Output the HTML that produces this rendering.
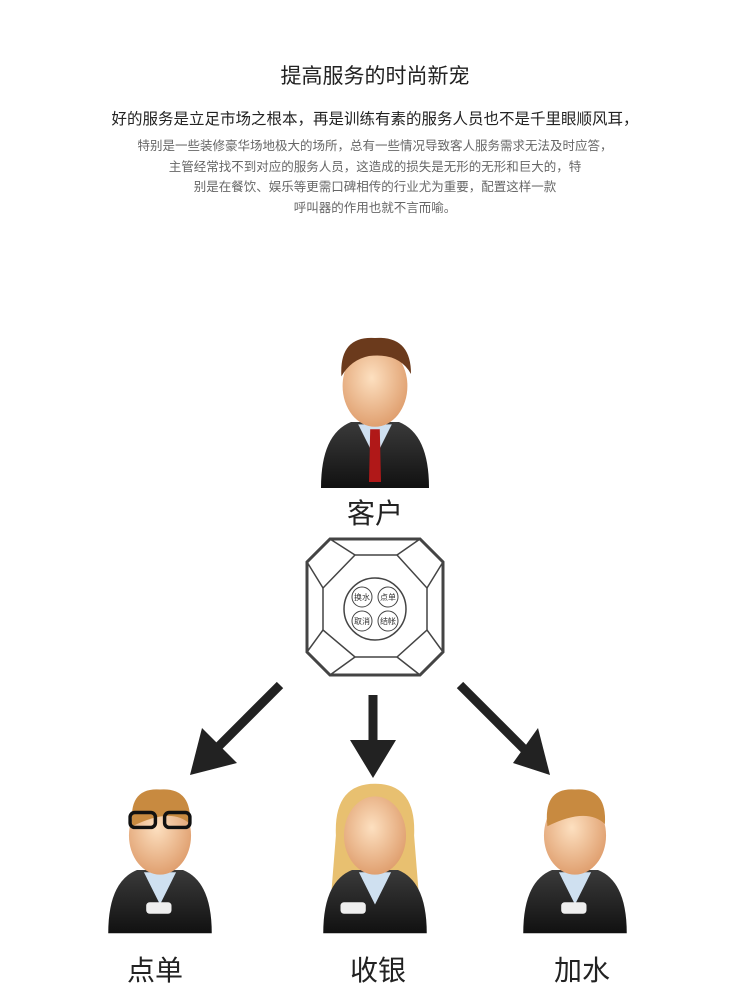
<!DOCTYPE html>
<html><head><meta charset="utf-8"><style>
body{margin:0;background:#fff;width:750px;height:1003px;overflow:hidden;font-family:"Liberation Sans","Noto Sans CJK SC",sans-serif;}
.t{position:absolute;left:0;width:750px;text-align:center;white-space:nowrap}
</style></head><body>
<div class="t" style="top:60px;font-size:21px;color:#222">提高服务的时尚新宠</div>
<div class="t" style="top:107px;font-size:15.5px;color:#222">好的服务是立足市场之根本，再是训练有素的服务人员也不是千里眼顺风耳，</div>
<div class="t" style="top:136px;font-size:12.5px;color:#666;line-height:20.5px">特别是一些装修豪华场地极大的场所，总有一些情况导致客人服务需求无法及时应答，<br>主管经常找不到对应的服务人员，这造成的损失是无形的无形和巨大的，特<br>别是在餐饮、娱乐等更需口碑相传的行业尤为重要，配置这样一款<br>呼叫器的作用也就不言而喻。</div>
<svg width="750" height="1003" style="position:absolute;left:0;top:0">
<defs>
<radialGradient id="sk" cx="0.45" cy="0.4" r="0.6"><stop offset="0" stop-color="#fde0c0"/><stop offset="1" stop-color="#e0a070"/></radialGradient>
<linearGradient id="su" x1="0" y1="0" x2="0" y2="1"><stop offset="0" stop-color="#3a3a3a"/><stop offset="1" stop-color="#111"/></linearGradient>
<g id="p">
<path d="M-45,55 Q-45,10 -20,0 L20,0 Q45,10 45,55 Z" fill="url(#su)"/>
<path d="M-14,2 L0,30 L14,2 Z" fill="#cfe0f0"/>
<ellipse cx="0" cy="-30" rx="27" ry="34" fill="url(#sk)"/>
</g>
</defs>
<g transform="translate(375,422) scale(1.2)">
<use href="#p"/>
<path d="M-4,6 L4,6 L5,50 L-5,50Z" fill="#b01818"/>
<path d="M-28,-38 Q-30,-72 0,-70 Q30,-72 30,-40 Q20,-58 -5,-55 Q-20,-52 -28,-38Z" fill="#6b3a1c"/>
</g>
<text x="375" y="523" font-size="28" text-anchor="middle" fill="#222">客户</text>
<g fill="none" stroke="#444">
<polygon points="330,539 420,539 443,562 443,652 420,675 330,675 307,652 307,562" stroke-width="3"/>
<polygon points="355,555 397,555 427,588 427,630 397,657 355,657 323,630 323,588" stroke-width="1.5"/>
<path d="M330,539L355,555M420,539L397,555M443,562L427,588M443,652L427,630M420,675L397,657M330,675L355,657M307,652L323,630M307,562L323,588" stroke-width="1.5"/>
<circle cx="375" cy="609" r="31" stroke-width="1.5"/>
<circle cx="362" cy="597" r="10"/><circle cx="388" cy="597" r="10"/><circle cx="362" cy="621" r="10"/><circle cx="388" cy="621" r="10"/>
</g>
<g font-size="8" text-anchor="middle" fill="#333">
<text x="362" y="600">换水</text><text x="388" y="600">点单</text><text x="362" y="624">取消</text><text x="388" y="624">结帐</text>
</g>
<g stroke="#222" stroke-width="9"><line x1="280" y1="685" x2="210" y2="755"/><line x1="373" y1="695" x2="373" y2="745"/><line x1="460" y1="685" x2="530" y2="755"/></g>
<g fill="#222">
<polygon points="190,775 202,728 237,763"/>
<polygon points="373,778 350,740 396,740"/>
<polygon points="550,775 513,763 538,728"/>
</g>
<g transform="translate(160,870) scale(1.15)"><use href="#p"/><path d="M-24,-38 Q-28,-72 0,-70 Q28,-72 26,-40 Q10,-55 -24,-38Z" fill="#c88a40"/>
<rect x="-26" y="-50" width="22" height="13" rx="4" fill="none" stroke="#111" stroke-width="3"/><rect x="4" y="-50" width="22" height="13" rx="4" fill="none" stroke="#111" stroke-width="3"/><rect x="-12" y="28" width="22" height="10" rx="3" fill="#eee"/></g>
<g transform="translate(375,870) scale(1.15)"><path d="M-34,-30 Q-36,-75 0,-75 Q36,-75 34,-30 L38,20 L-38,20Z" fill="#e8c070"/><use href="#p"/><rect x="-30" y="28" width="22" height="10" rx="3" fill="#eee"/></g>
<g transform="translate(575,870) scale(1.15)"><use href="#p"/><path d="M-24,-38 Q-28,-72 0,-70 Q28,-72 26,-40 Q10,-55 -24,-38Z" fill="#c88a40"/><rect x="-12" y="28" width="22" height="10" rx="3" fill="#eee"/></g>
<g font-size="28" text-anchor="middle" fill="#222">
<text x="155" y="980">点单</text><text x="378" y="980">收银</text><text x="582" y="980">加水</text>
</g>
</svg>
</body></html>
